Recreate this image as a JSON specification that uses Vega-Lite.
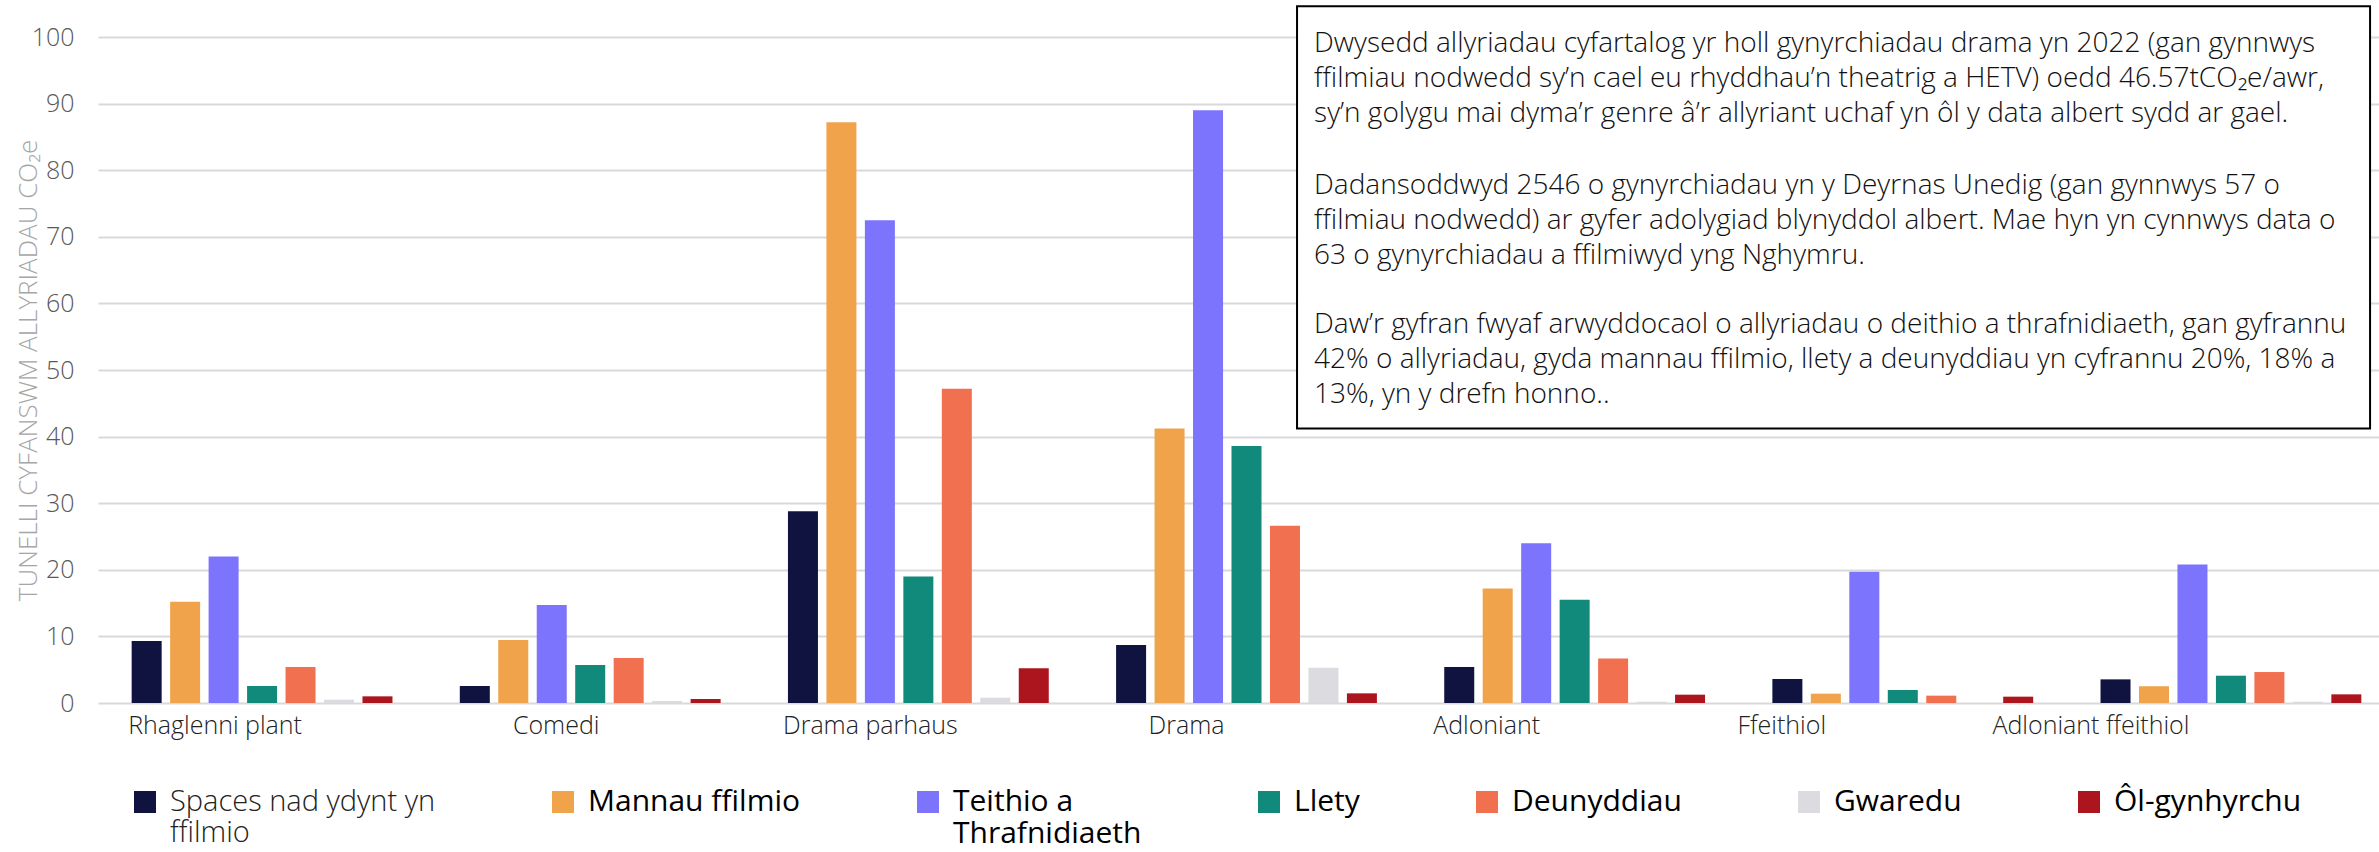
{
  "$schema": "https://vega.github.io/schema/vega-lite/v6.json",
  "autosize": {"type": "none"},
  "padding": {"left": 98, "top": 37, "right": 0, "bottom": 149},
  "width": 2297,
  "height": 666,
  "background": "white",
  "config": {"view": {"stroke": null}, "font": "Open Sans"},
  "layer": [
    {
      "data": {"values": [
        {"g": "Rhaglenni plant", "c": "Spaces nad ydynt yn ffilmio", "v": 9.3},
        {"g": "Rhaglenni plant", "c": "Mannau ffilmio", "v": 15.2},
        {"g": "Rhaglenni plant", "c": "Teithio a Thrafnidiaeth", "v": 22.0},
        {"g": "Rhaglenni plant", "c": "Llety", "v": 2.55},
        {"g": "Rhaglenni plant", "c": "Deunyddiau", "v": 5.4},
        {"g": "Rhaglenni plant", "c": "Gwaredu", "v": 0.5},
        {"g": "Rhaglenni plant", "c": "Ôl-gynhyrchu", "v": 1.0},
        {"g": "Comedi", "c": "Spaces nad ydynt yn ffilmio", "v": 2.55},
        {"g": "Comedi", "c": "Mannau ffilmio", "v": 9.45},
        {"g": "Comedi", "c": "Teithio a Thrafnidiaeth", "v": 14.7},
        {"g": "Comedi", "c": "Llety", "v": 5.7},
        {"g": "Comedi", "c": "Deunyddiau", "v": 6.75},
        {"g": "Comedi", "c": "Gwaredu", "v": 0.3},
        {"g": "Comedi", "c": "Ôl-gynhyrchu", "v": 0.6},
        {"g": "Drama parhaus", "c": "Spaces nad ydynt yn ffilmio", "v": 28.8},
        {"g": "Drama parhaus", "c": "Mannau ffilmio", "v": 87.2},
        {"g": "Drama parhaus", "c": "Teithio a Thrafnidiaeth", "v": 72.5},
        {"g": "Drama parhaus", "c": "Llety", "v": 19.0},
        {"g": "Drama parhaus", "c": "Deunyddiau", "v": 47.2},
        {"g": "Drama parhaus", "c": "Gwaredu", "v": 0.8},
        {"g": "Drama parhaus", "c": "Ôl-gynhyrchu", "v": 5.2},
        {"g": "Drama", "c": "Spaces nad ydynt yn ffilmio", "v": 8.7},
        {"g": "Drama", "c": "Mannau ffilmio", "v": 41.2},
        {"g": "Drama", "c": "Teithio a Thrafnidiaeth", "v": 89.0},
        {"g": "Drama", "c": "Llety", "v": 38.6},
        {"g": "Drama", "c": "Deunyddiau", "v": 26.6},
        {"g": "Drama", "c": "Gwaredu", "v": 5.3},
        {"g": "Drama", "c": "Ôl-gynhyrchu", "v": 1.45},
        {"g": "Adloniant", "c": "Spaces nad ydynt yn ffilmio", "v": 5.4},
        {"g": "Adloniant", "c": "Mannau ffilmio", "v": 17.2},
        {"g": "Adloniant", "c": "Teithio a Thrafnidiaeth", "v": 24.0},
        {"g": "Adloniant", "c": "Llety", "v": 15.5},
        {"g": "Adloniant", "c": "Deunyddiau", "v": 6.7},
        {"g": "Adloniant", "c": "Gwaredu", "v": 0.2},
        {"g": "Adloniant", "c": "Ôl-gynhyrchu", "v": 1.25},
        {"g": "Ffeithiol", "c": "Spaces nad ydynt yn ffilmio", "v": 3.6},
        {"g": "Ffeithiol", "c": "Mannau ffilmio", "v": 1.4},
        {"g": "Ffeithiol", "c": "Teithio a Thrafnidiaeth", "v": 19.7},
        {"g": "Ffeithiol", "c": "Llety", "v": 1.95},
        {"g": "Ffeithiol", "c": "Deunyddiau", "v": 1.1},
        {"g": "Ffeithiol", "c": "Gwaredu", "v": 0},
        {"g": "Ffeithiol", "c": "Ôl-gynhyrchu", "v": 0.95},
        {"g": "Adloniant ffeithiol", "c": "Spaces nad ydynt yn ffilmio", "v": 3.55},
        {"g": "Adloniant ffeithiol", "c": "Mannau ffilmio", "v": 2.5},
        {"g": "Adloniant ffeithiol", "c": "Teithio a Thrafnidiaeth", "v": 20.8},
        {"g": "Adloniant ffeithiol", "c": "Llety", "v": 4.1},
        {"g": "Adloniant ffeithiol", "c": "Deunyddiau", "v": 4.65},
        {"g": "Adloniant ffeithiol", "c": "Gwaredu", "v": 0.2},
        {"g": "Adloniant ffeithiol", "c": "Ôl-gynhyrchu", "v": 1.3}
      ]},
      "mark": {"type": "bar"},
      "encoding": {
        "x": {
          "field": "g", "type": "nominal",
          "sort": ["Rhaglenni plant", "Comedi", "Drama parhaus", "Drama", "Adloniant", "Ffeithiol", "Adloniant ffeithiol"],
          "scale": {"paddingInner": 0, "paddingOuter": 0},
          "axis": {
            "title": null, "labelAngle": 0, "ticks": false, "domain": false, "grid": false,
            "labelFontSize": 25, "labelFont": "Open Sans", "labelFontWeight": 300, "labelColor": "#222222",
            "labelPadding": 10, "labelBaseline": "top", "labelLimit": 400,
            "labelOffset": {"condition": [
              {"test": "datum.value == 'Rhaglenni plant'", "value": -47},
              {"test": "datum.value == 'Comedi'", "value": -34},
              {"test": "datum.value == 'Drama parhaus'", "value": -48},
              {"test": "datum.value == 'Drama'", "value": -60},
              {"test": "datum.value == 'Adloniant'", "value": -88},
              {"test": "datum.value == 'Ffeithiol'", "value": -121}
            ], "value": -140}
          }
        },
        "xOffset": {
          "field": "c", "type": "nominal",
          "sort": ["Spaces nad ydynt yn ffilmio", "Mannau ffilmio", "Teithio a Thrafnidiaeth", "Llety", "Deunyddiau", "Gwaredu", "Ôl-gynhyrchu"],
          "scale": {"paddingInner": 0.22, "paddingOuter": 0.875}
        },
        "y": {
          "field": "v", "type": "quantitative",
          "scale": {"domain": [0, 100]},
          "axis": {
            "values": [0, 10, 20, 30, 40, 50, 60, 70, 80, 90, 100],
            "title": "TUNELLI CYFANSWM ALLYRIADAU CO₂e",
            "titleFontSize": 26, "titleFont": "Open Sans", "titleFontWeight": 300, "titleColor": "#a6a6a6", "titlePadding": -10,
            "labelFontSize": 25, "labelFont": "Open Sans", "labelFontWeight": 300, "labelColor": "#595959", "labelPadding": 24,
            "ticks": false, "tickSize": 0, "domain": false, "gridColor": "#d9d9d9", "gridWidth": 2
          }
        },
        "color": {
          "field": "c", "type": "nominal",
          "scale": {
            "domain": ["Spaces nad ydynt yn ffilmio", "Mannau ffilmio", "Teithio a Thrafnidiaeth", "Llety", "Deunyddiau", "Gwaredu", "Ôl-gynhyrchu"],
            "range": ["#10123f", "#f0a34a", "#7c74fc", "#118a7b", "#f07050", "#dcdce0", "#ad151e"]
          },
          "legend": {
            "orient": "none", "legendX": 32, "legendY": 750, "direction": "horizontal", "columns": 7,
            "title": null, "symbolType": "square", "symbolSize": 484, "symbolStrokeWidth": 0, "symbolOpacity": 1,
            "labelFontSize": 30, "labelFont": "Open Sans", "labelColor": "#111111", "labelLimit": 500, "labelOffset": 10,
            "columnPadding": 112, "gridAlign": "none",
            "labelExpr": "datum.label == 'Spaces nad ydynt yn ffilmio' ? ['Spaces nad ydynt yn', 'ffilmio'] : datum.label == 'Teithio a Thrafnidiaeth' ? ['Teithio a', 'Thrafnidiaeth'] : datum.label",
            "encode": {
              "labels": {
                "update": {
                  "fontSize": {"signal": "datum.value == 'Spaces nad ydynt yn ffilmio' ? 29 : 30"},
                  "fontWeight": {"signal": "datum.value == 'Spaces nad ydynt yn ffilmio' ? 300 : 400"},
                  "fill": {"signal": "datum.value == 'Spaces nad ydynt yn ffilmio' ? '#222222' : '#000000'"}
                }
              }
            }
          }
        }
      }
    },
    {
      "data": {"values": [{}]},
      "mark": {"type": "rect", "fill": "white", "stroke": "black", "strokeWidth": 2},
      "encoding": {
        "x": {"datum": 3.654, "type": "quantitative", "scale": {"domain": [0, 7], "nice": false, "zero": false}, "axis": null},
        "x2": {"datum": 6.924},
        "y": {"datum": 104.6, "type": "quantitative", "scale": {"domain": [0, 100], "nice": false}, "axis": null},
        "y2": {"datum": 41.2}
      }
    },
    {
      "data": {"values": [{}]},
      "mark": {
        "type": "text", "align": "left", "baseline": "alphabetic", "lineHeight": 35,
        "fontSize": 28, "font": "Open Sans", "fontWeight": 300, "color": "#111111",
        "text": [
          "Dwysedd allyriadau cyfartalog yr holl gynyrchiadau drama yn 2022 (gan gynnwys",
          "ffilmiau nodwedd sy’n cael eu rhyddhau’n theatrig a HETV) oedd 46.57tCO₂e/awr,",
          "sy’n golygu mai dyma’r genre â’r allyriant uchaf yn ôl y data albert sydd ar gael."
        ]
      },
      "encoding": {
        "x": {"datum": 3.706, "type": "quantitative", "scale": {"domain": [0, 7], "nice": false, "zero": false}, "axis": null},
        "y": {"datum": 97.7, "type": "quantitative", "scale": {"domain": [0, 100], "nice": false}, "axis": null}
      }
    },
    {
      "data": {"values": [{}]},
      "mark": {
        "type": "text", "align": "left", "baseline": "alphabetic", "lineHeight": 35,
        "fontSize": 28, "font": "Open Sans", "fontWeight": 300, "color": "#111111",
        "text": [
          "Dadansoddwyd 2546 o gynyrchiadau yn y Deyrnas Unedig (gan gynnwys 57 o",
          "ffilmiau nodwedd) ar gyfer adolygiad blynyddol albert. Mae hyn yn cynnwys data o",
          "63 o gynyrchiadau a ffilmiwyd yng Nghymru."
        ]
      },
      "encoding": {
        "x": {"datum": 3.706, "type": "quantitative", "scale": {"domain": [0, 7], "nice": false, "zero": false}, "axis": null},
        "y": {"datum": 76.4, "type": "quantitative", "scale": {"domain": [0, 100], "nice": false}, "axis": null}
      }
    },
    {
      "data": {"values": [{}]},
      "mark": {
        "type": "text", "align": "left", "baseline": "alphabetic", "lineHeight": 35,
        "fontSize": 28, "font": "Open Sans", "fontWeight": 300, "color": "#111111",
        "text": [
          "Daw’r gyfran fwyaf arwyddocaol o allyriadau o deithio a thrafnidiaeth, gan gyfrannu",
          "42% o allyriadau, gyda mannau ffilmio, llety a deunyddiau yn cyfrannu 20%, 18% a",
          "13%, yn y drefn honno.."
        ]
      },
      "encoding": {
        "x": {"datum": 3.706, "type": "quantitative", "scale": {"domain": [0, 7], "nice": false, "zero": false}, "axis": null},
        "y": {"datum": 55.6, "type": "quantitative", "scale": {"domain": [0, 100], "nice": false}, "axis": null}
      }
    }
  ],
  "resolve": {"scale": {"x": "independent", "y": "independent"}}
}
